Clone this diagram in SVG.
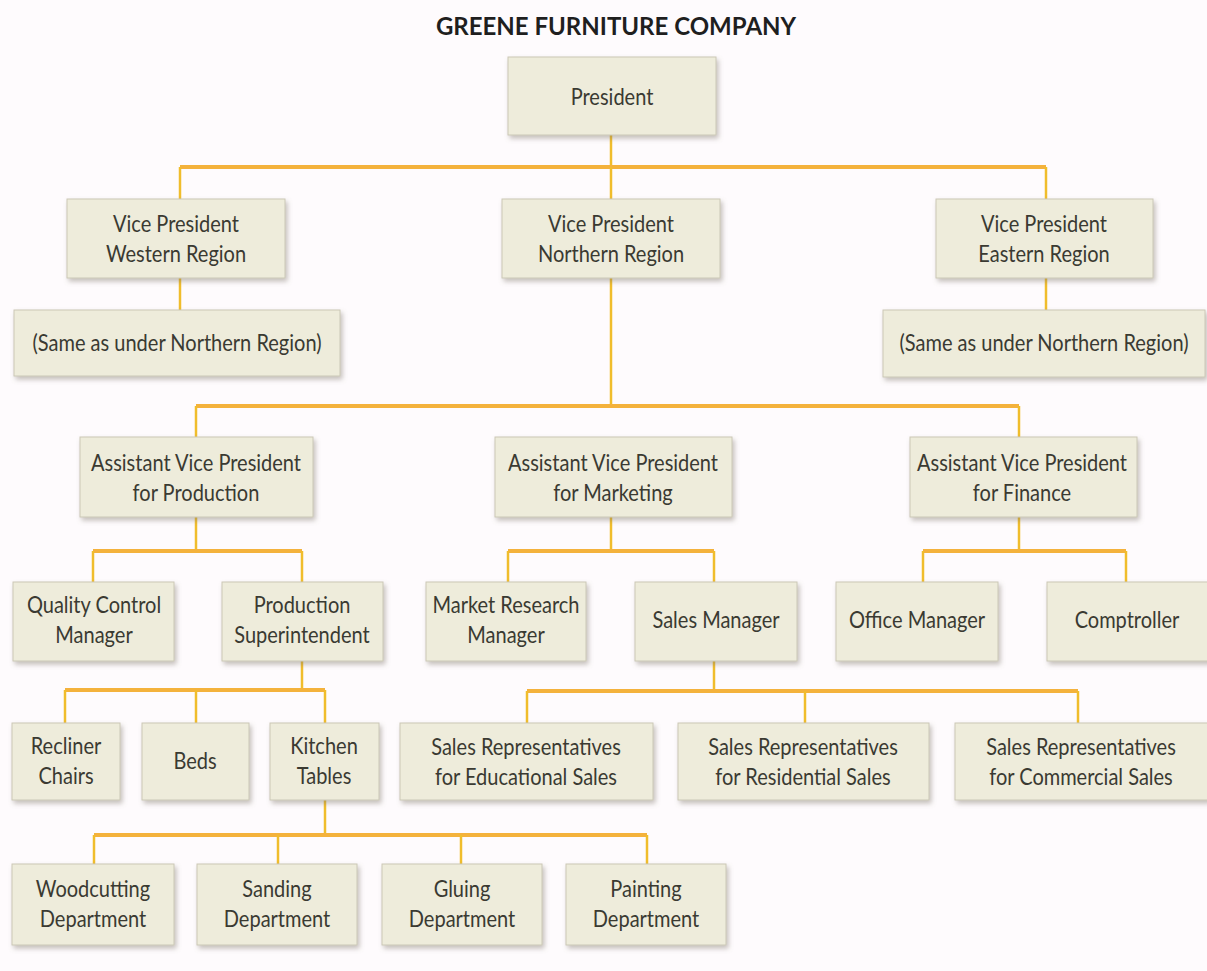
<svg xmlns="http://www.w3.org/2000/svg" width="1207" height="971" viewBox="0 0 1207 971">
  <defs>
    <filter id="shadow" x="-10%" y="-20%" width="125%" height="150%">
      <feDropShadow dx="2" dy="3" stdDeviation="2.5" flood-color="#7d7468" flood-opacity="0.45"/>
    </filter>
    <style>
      .bg { fill: #fefbfd; }
      .title { font-family: "Lato", "Liberation Sans", sans-serif; font-weight: bold; font-size: 24px; fill: #1f1f1f; text-anchor: middle; }
      .node rect { fill: #eeecdb; stroke: #cbc8b6; stroke-width: 1; filter: url(#shadow); }
      .node text { font-family: "Lato", "Liberation Sans", sans-serif; font-size: 23px; fill: #3a3a32; text-anchor: middle; }
      .h { stroke: #f4b23c; stroke-width: 4; fill: none; }
      .v { stroke: #f0bd2c; stroke-width: 2.5; fill: none; }
    </style>
  </defs>

  <rect class="bg" x="0" y="0" width="1207" height="971"/>

  <text class="title" x="616" y="35">GREENE FURNITURE COMPANY</text>

  <!-- connectors: horizontal bars and vertical drops -->
  <g id="connectors">
    <!-- president to vice presidents -->
    <line class="v" x1="611" y1="135" x2="611" y2="167"/>
    <line class="h" x1="180" y1="167" x2="1046" y2="167"/>
    <line class="v" x1="180" y1="167" x2="180" y2="199"/>
    <line class="v" x1="611" y1="167" x2="611" y2="199"/>
    <line class="v" x1="1046" y1="167" x2="1046" y2="199"/>
    <!-- western and eastern regions -->
    <line class="v" x1="180" y1="278" x2="180" y2="310"/>
    <line class="v" x1="1046" y1="278" x2="1046" y2="310"/>
    <!-- northern region to assistant vice presidents -->
    <line class="v" x1="611" y1="278" x2="611" y2="406"/>
    <line class="h" x1="196" y1="406" x2="1019" y2="406"/>
    <line class="v" x1="196" y1="406" x2="196" y2="437"/>
    <line class="v" x1="1019" y1="406" x2="1019" y2="437"/>
    <!-- production -->
    <line class="v" x1="196" y1="517" x2="196" y2="551"/>
    <line class="h" x1="93" y1="551" x2="302" y2="551"/>
    <line class="v" x1="93" y1="551" x2="93" y2="582"/>
    <line class="v" x1="302" y1="551" x2="302" y2="582"/>
    <!-- marketing -->
    <line class="v" x1="611" y1="517" x2="611" y2="551"/>
    <line class="h" x1="508" y1="551" x2="714" y2="551"/>
    <line class="v" x1="508" y1="551" x2="508" y2="582"/>
    <line class="v" x1="714" y1="551" x2="714" y2="582"/>
    <!-- finance -->
    <line class="v" x1="1019" y1="517" x2="1019" y2="551"/>
    <line class="h" x1="923" y1="551" x2="1126" y2="551"/>
    <line class="v" x1="923" y1="551" x2="923" y2="582"/>
    <line class="v" x1="1126" y1="551" x2="1126" y2="582"/>
    <!-- production superintendent to product lines -->
    <line class="v" x1="302" y1="661" x2="302" y2="690"/>
    <line class="h" x1="65" y1="690" x2="325" y2="690"/>
    <line class="v" x1="65" y1="690" x2="65" y2="723"/>
    <line class="v" x1="196" y1="690" x2="196" y2="723"/>
    <line class="v" x1="325" y1="690" x2="325" y2="723"/>
    <!-- sales manager to sales representatives -->
    <line class="v" x1="714" y1="661" x2="714" y2="691"/>
    <line class="h" x1="527" y1="691" x2="1078" y2="691"/>
    <line class="v" x1="527" y1="691" x2="527" y2="723"/>
    <line class="v" x1="805" y1="691" x2="805" y2="723"/>
    <line class="v" x1="1078" y1="691" x2="1078" y2="723"/>
    <!-- kitchen tables to departments -->
    <line class="v" x1="325" y1="800" x2="325" y2="835"/>
    <line class="h" x1="94" y1="835" x2="647" y2="835"/>
    <line class="v" x1="94" y1="835" x2="94" y2="864"/>
    <line class="v" x1="278" y1="835" x2="278" y2="864"/>
    <line class="v" x1="461" y1="835" x2="461" y2="864"/>
    <line class="v" x1="647" y1="835" x2="647" y2="864"/>
  </g>

  <!-- level 0 -->
  <g id="president" class="node">
    <rect x="508" y="57" width="208" height="78"/>
    <text transform="translate(612 0) scale(0.87 1)" y="105">President</text>
  </g>

  <!-- level 1 -->
  <g id="vp-western" class="node">
    <rect x="67" y="199" width="218" height="79"/>
    <text transform="translate(176 0) scale(0.87 1)"><tspan x="0" y="232">Vice President</tspan><tspan x="0" y="262">Western Region</tspan></text>
  </g>
  <g id="vp-northern" class="node">
    <rect x="502" y="199" width="218" height="79"/>
    <text transform="translate(611 0) scale(0.87 1)"><tspan x="0" y="232">Vice President</tspan><tspan x="0" y="262">Northern Region</tspan></text>
  </g>
  <g id="vp-eastern" class="node">
    <rect x="936" y="199" width="217" height="79"/>
    <text transform="translate(1044 0) scale(0.87 1)"><tspan x="0" y="232">Vice President</tspan><tspan x="0" y="262">Eastern Region</tspan></text>
  </g>

  <g id="western-same" class="node">
    <rect x="14" y="310" width="326" height="66"/>
    <text transform="translate(177 0) scale(0.87 1)" y="351">(Same as under Northern Region)</text>
  </g>
  <g id="eastern-same" class="node">
    <rect x="883" y="310" width="322" height="67"/>
    <text transform="translate(1044 0) scale(0.87 1)" y="351">(Same as under Northern Region)</text>
  </g>

  <!-- level 2 -->
  <g id="avp-production" class="node">
    <rect x="80" y="437" width="233" height="80"/>
    <text transform="translate(196 0) scale(0.87 1)"><tspan x="0" y="471">Assistant Vice President</tspan><tspan x="0" y="501">for Production</tspan></text>
  </g>
  <g id="avp-marketing" class="node">
    <rect x="495" y="437" width="237" height="80"/>
    <text transform="translate(613 0) scale(0.87 1)"><tspan x="0" y="471">Assistant Vice President</tspan><tspan x="0" y="501">for Marketing</tspan></text>
  </g>
  <g id="avp-finance" class="node">
    <rect x="910" y="437" width="227" height="80"/>
    <text transform="translate(1022 0) scale(0.87 1)"><tspan x="0" y="471">Assistant Vice President</tspan><tspan x="0" y="501">for Finance</tspan></text>
  </g>

  <!-- level 3 -->
  <g id="quality-control" class="node">
    <rect x="13" y="582" width="161" height="79"/>
    <text transform="translate(94 0) scale(0.87 1)"><tspan x="0" y="613">Quality Control</tspan><tspan x="0" y="643">Manager</tspan></text>
  </g>
  <g id="production-superintendent" class="node">
    <rect x="222" y="582" width="161" height="79"/>
    <text transform="translate(302 0) scale(0.87 1)"><tspan x="0" y="613">Production</tspan><tspan x="0" y="643">Superintendent</tspan></text>
  </g>
  <g id="market-research" class="node">
    <rect x="426" y="582" width="160" height="79"/>
    <text transform="translate(506 0) scale(0.87 1)"><tspan x="0" y="613">Market Research</tspan><tspan x="0" y="643">Manager</tspan></text>
  </g>
  <g id="sales-manager" class="node">
    <rect x="635" y="582" width="162" height="79"/>
    <text transform="translate(716 0) scale(0.87 1)" y="628">Sales Manager</text>
  </g>
  <g id="office-manager" class="node">
    <rect x="836" y="582" width="162" height="79"/>
    <text transform="translate(917 0) scale(0.87 1)" y="628">Office Manager</text>
  </g>
  <g id="comptroller" class="node">
    <rect x="1047" y="582" width="163" height="79"/>
    <text transform="translate(1127 0) scale(0.87 1)" y="628">Comptroller</text>
  </g>

  <!-- level 4: product lines -->
  <g id="recliner-chairs" class="node">
    <rect x="12" y="723" width="108" height="77"/>
    <text transform="translate(66 0) scale(0.87 1)"><tspan x="0" y="754">Recliner</tspan><tspan x="0" y="784">Chairs</tspan></text>
  </g>
  <g id="beds" class="node">
    <rect x="142" y="723" width="107" height="77"/>
    <text transform="translate(195 0) scale(0.87 1)" y="769">Beds</text>
  </g>
  <g id="kitchen-tables" class="node">
    <rect x="270" y="723" width="109" height="77"/>
    <text transform="translate(324 0) scale(0.87 1)"><tspan x="0" y="754">Kitchen</tspan><tspan x="0" y="784">Tables</tspan></text>
  </g>

  <!-- level 4: sales representatives -->
  <g id="sales-educational" class="node">
    <rect x="400" y="723" width="253" height="77"/>
    <text transform="translate(526 0) scale(0.87 1)"><tspan x="0" y="755">Sales Representatives</tspan><tspan x="0" y="785">for Educational Sales</tspan></text>
  </g>
  <g id="sales-residential" class="node">
    <rect x="678" y="723" width="251" height="77"/>
    <text transform="translate(803 0) scale(0.87 1)"><tspan x="0" y="755">Sales Representatives</tspan><tspan x="0" y="785">for Residential Sales</tspan></text>
  </g>
  <g id="sales-commercial" class="node">
    <rect x="955" y="723" width="254" height="77"/>
    <text transform="translate(1081 0) scale(0.87 1)"><tspan x="0" y="755">Sales Representatives</tspan><tspan x="0" y="785">for Commercial Sales</tspan></text>
  </g>

  <!-- level 5: departments -->
  <g id="woodcutting" class="node">
    <rect x="12" y="864" width="162" height="81"/>
    <text transform="translate(93 0) scale(0.87 1)"><tspan x="0" y="897">Woodcutting</tspan><tspan x="0" y="927">Department</tspan></text>
  </g>
  <g id="sanding" class="node">
    <rect x="197" y="864" width="160" height="81"/>
    <text transform="translate(277 0) scale(0.87 1)"><tspan x="0" y="897">Sanding</tspan><tspan x="0" y="927">Department</tspan></text>
  </g>
  <g id="gluing" class="node">
    <rect x="382" y="864" width="160" height="81"/>
    <text transform="translate(462 0) scale(0.87 1)"><tspan x="0" y="897">Gluing</tspan><tspan x="0" y="927">Department</tspan></text>
  </g>
  <g id="painting" class="node">
    <rect x="566" y="864" width="160" height="81"/>
    <text transform="translate(646 0) scale(0.87 1)"><tspan x="0" y="897">Painting</tspan><tspan x="0" y="927">Department</tspan></text>
  </g>
</svg>
